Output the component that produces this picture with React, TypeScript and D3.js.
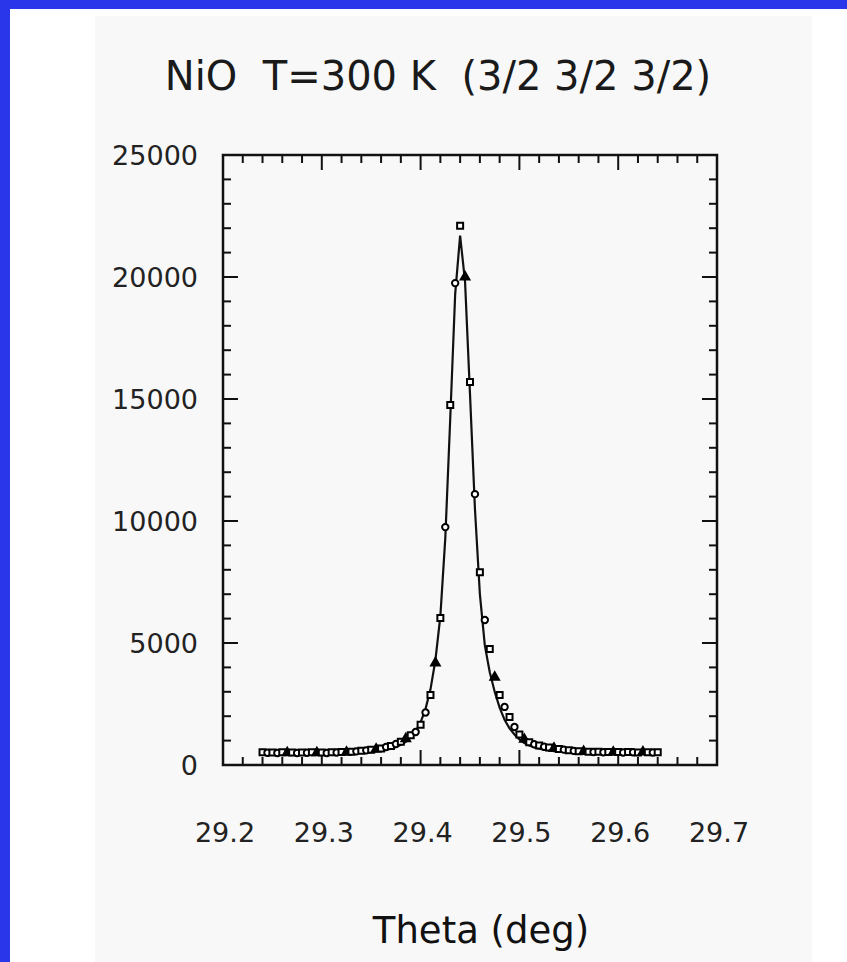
import React from 'react';
import * as d3 from 'd3';

// scan angle (deg)
const theta = [
  29.24, 29.245, 29.25, 29.255, 29.26, 29.265, 29.27, 29.275, 29.28, 29.285,
  29.29, 29.295, 29.3, 29.305, 29.31, 29.315, 29.32, 29.325, 29.33, 29.335,
  29.34, 29.345, 29.35, 29.355, 29.36, 29.365, 29.37, 29.375, 29.38, 29.385,
  29.39, 29.395, 29.4, 29.405, 29.41, 29.415, 29.42, 29.425, 29.43, 29.435,
  29.44, 29.445, 29.45, 29.455, 29.46, 29.465, 29.47, 29.475, 29.48, 29.485,
  29.49, 29.495, 29.5, 29.505, 29.51, 29.515, 29.52, 29.525, 29.53, 29.535,
  29.54, 29.545, 29.55, 29.555, 29.56, 29.565, 29.57, 29.575, 29.58, 29.585,
  29.59, 29.595, 29.6, 29.605, 29.61, 29.615, 29.62, 29.625, 29.63, 29.635,
  29.64,
];

// measured counts
const counts = [
  520, 500, 510, 490, 520, 500, 510, 490, 510, 500,
  520, 500, 510, 490, 520, 510, 530, 520, 540, 560,
  580, 600, 620, 650, 680, 740, 780, 860, 950, 1080,
  1220, 1350, 1650, 2150, 2870, 4180, 6020, 9750, 14750, 19750,
  22100, 20000, 15700, 11100, 7900, 5940, 4750, 3600, 2870, 2380,
  1970, 1560, 1250, 1050, 930, 850, 800, 750, 720, 690,
  660, 630, 600, 580, 560, 550, 540, 530, 540, 520,
  530, 520, 530, 510, 530, 520, 510, 530, 520, 510,
  520,
];

// fitted profile
const fit = [
  480, 480, 480, 480, 480, 480, 480, 480, 480, 480,
  480, 480, 480, 480, 480, 480, 485, 485, 490, 495,
  500, 510, 530, 550, 580, 620, 670, 740, 830, 950,
  1120, 1380, 1750, 2300, 3100, 4300, 6100, 9300, 14200, 19300,
  21700, 19800, 15200, 10500, 7000, 4900, 3800, 3000, 2350, 1850,
  1500, 1250, 1050, 900, 800, 730, 670, 630, 595, 570,
  550, 535, 520, 510, 505, 500, 500, 500, 500, 500,
  500, 500, 500, 500, 500, 500, 500, 500, 500, 500,
  500,
];

const xTickLabels = ['29.2', '29.3', '29.4', '29.5', '29.6', '29.7'];
const yTickLabels = ['0', '5000', '10000', '15000', '20000', '25000'];

const W = 847;
const H = 962;
const plot = { left: 223, right: 717, top: 155, bottom: 765 };

export default function App() {
  const x = d3.scaleLinear().domain([29.2, 29.7]).range([plot.left, plot.right]);
  const y = d3.scaleLinear().domain([0, 25000]).range([plot.bottom, plot.top]);

  const xMinor = d3.range(0, 26).map(i => 29.2 + i * 0.02);
  const yMinor = d3.range(0, 26).map(i => i * 1000);

  const line = d3.line<number>()
    .x((_, i) => x(theta[i]))
    .y(d => y(d));

  const sq = d3.symbol().type(d3.symbolSquare).size(36)();
  const ci = d3.symbol().type(d3.symbolCircle).size(32)();
  const tri = d3.symbol().type(d3.symbolTriangle).size(32)();

  const font = "'DejaVu Sans', 'Noto Sans', sans-serif";

  return (
    <svg width={W} height={H} style={{ position: 'absolute', left: 0, top: 0 }}>
      <rect x={0} y={0} width={W} height={H} fill="#ffffff" />
      <rect x={95} y={16} width={717} height={H - 16} fill="#f8f8f8" />
      <rect x={0} y={0} width={W} height={9} fill="#2a36ea" />
      <rect x={0} y={0} width={10} height={H} fill="#2a36ea" />

      <text x={438} y={90} textAnchor="middle" fontFamily={font} fontSize={40}
        fill="#1a1a1a" style={{ whiteSpace: 'pre' }}>
        {'NiO  T=300 K  (3/2 3/2 3/2)'}
      </text>

      {/* ticks, inside on all four sides */}
      <g stroke="#111" strokeWidth={2}>
        {xMinor.map((v, i) => {
          const len = i % 5 === 0 ? 15 : 8;
          return (
            <g key={'x' + i}>
              <line x1={x(v)} x2={x(v)} y1={plot.bottom} y2={plot.bottom - len} />
              <line x1={x(v)} x2={x(v)} y1={plot.top} y2={plot.top + len} />
            </g>
          );
        })}
        {yMinor.map((v, i) => {
          const len = i % 5 === 0 ? 15 : 8;
          return (
            <g key={'y' + i}>
              <line x1={plot.left} x2={plot.left + len} y1={y(v)} y2={y(v)} />
              <line x1={plot.right} x2={plot.right - len} y1={y(v)} y2={y(v)} />
            </g>
          );
        })}
      </g>
      <rect x={plot.left} y={plot.top} width={plot.right - plot.left}
        height={plot.bottom - plot.top} fill="none" stroke="#111" strokeWidth={2.5} />

      {yTickLabels.map(t => (
        <text key={t} x={198} y={y(+t)} dy="0.36em" textAnchor="end"
          fontFamily={font} fontSize={27} fill="#222">{t}</text>
      ))}
      {xTickLabels.map(t => (
        <text key={t} x={x(+t) + 2} y={842} textAnchor="middle"
          fontFamily={font} fontSize={27} fill="#222">{t}</text>
      ))}

      <path d={line(fit) || ''} fill="none" stroke="#111" strokeWidth={2.2} />

      <g stroke="#000" strokeWidth={2}>
        {counts.map((c, i) => {
          const shape = i % 6 === 5 ? tri : i % 2 === 0 ? sq : ci;
          return (
            <path key={i} d={shape || ''}
              transform={`translate(${x(theta[i])},${y(c)})`}
              fill={shape === tri ? '#000' : '#fff'} />
          );
        })}
      </g>

      <text x={481} y={943} textAnchor="middle" fontFamily={font} fontSize={37}
        fill="#111">Theta (deg)</text>
    </svg>
  );
}
